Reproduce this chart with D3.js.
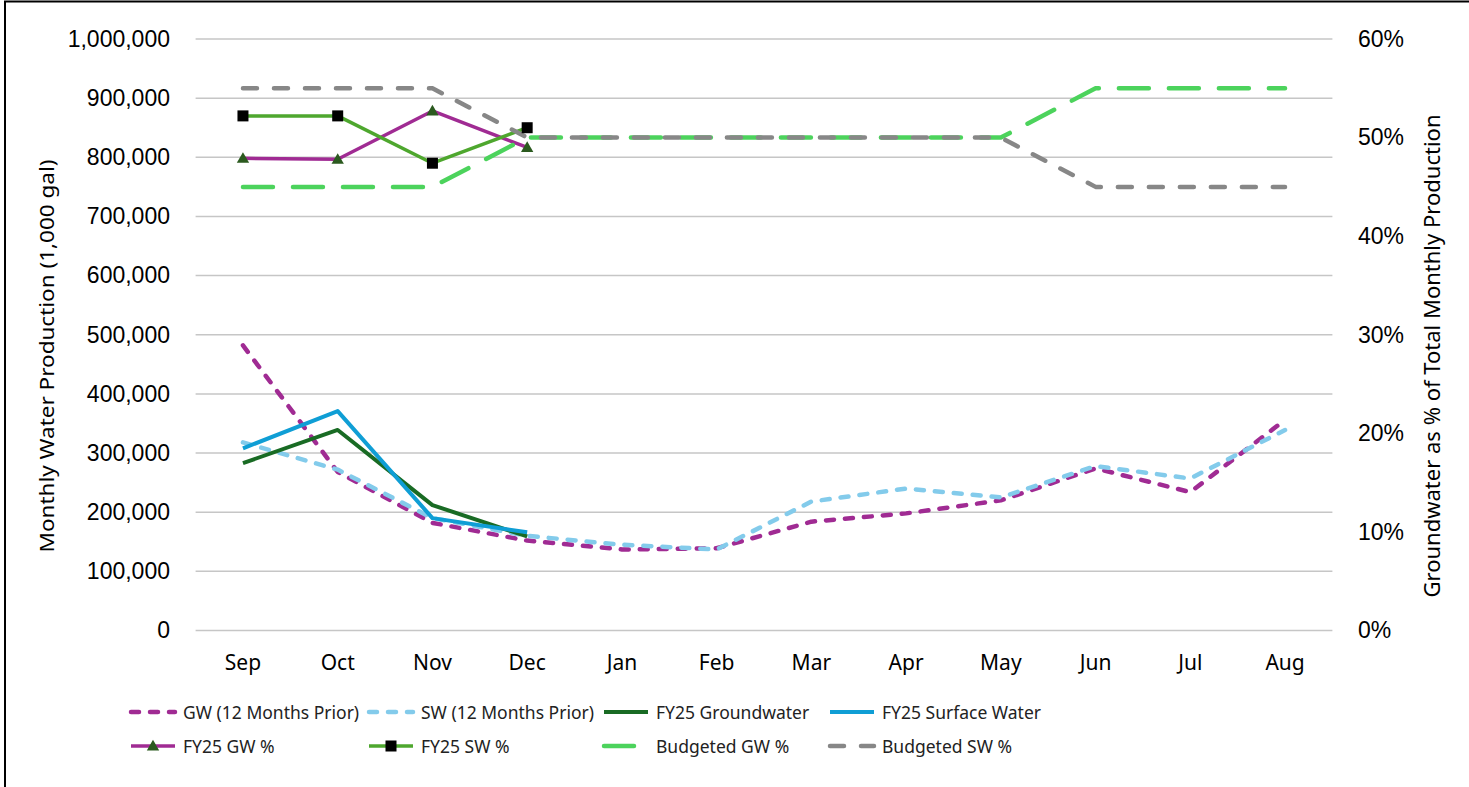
<!DOCTYPE html>
<html>
<head>
<meta charset="utf-8">
<script src="https://cdn.jsdelivr.net/npm/d3@7"></script>
<style>
	body { margin: 0; background: #fff; }
	#graph svg { display: block; }
</style>
</head>
<body>
<div id="graph"></div>
<script>
// chart values
const months = ["Sep", "Oct", "Nov", "Dec", "Jan", "Feb", "Mar", "Apr", "May", "Jun", "Jul", "Aug"];
const gwPrior = [482000, 268000, 182000, 152000, 137000, 139000, 184000, 198000, 220000, 274000, 234000, 356000];
const swPrior = [318000, 272000, 190000, 160000, 145000, 137000, 218000, 240000, 225000, 278000, 257000, 339000];
const fy25Gw = [283000, 339000, 212000, 159000];
const fy25Sw = [308000, 371000, 190000, 166000];
const fy25GwPct = [0.479, 0.478, 0.527, 0.490];
const fy25SwPct = [0.522, 0.522, 0.474, 0.510];
const budgetGwPct = [0.45, 0.45, 0.45, 0.50, 0.50, 0.50, 0.50, 0.50, 0.50, 0.55, 0.55, 0.55];
const budgetSwPct = [0.55, 0.55, 0.55, 0.50, 0.50, 0.50, 0.50, 0.50, 0.50, 0.45, 0.45, 0.45];
const leftTicks = [0, 100000, 200000, 300000, 400000, 500000, 600000, 700000, 800000, 900000, 1000000];
const rightTicks = [0, 0.1, 0.2, 0.3, 0.4, 0.5, 0.6];

width = 1469;
height = 787;
marginLeft = 195.6;
marginRight = 1332.4;
plotTop = 39;
plotBottom = 630.5;

const tickFont = "'Liberation Sans', Arial, sans-serif";
const textFont = "'Noto Sans', 'Open Sans', sans-serif";

const xScale = d3.scaleBand(months, [marginLeft, marginRight]);
const xMid = (m) => xScale(m) + xScale.bandwidth() / 2;
const yLeft = d3.scaleLinear([0, 1000000], [plotBottom, plotTop]);
const yRight = d3.scaleLinear([0, 0.6], [plotBottom, plotTop]);

// series styles, in legend order
const series = [
	{ name: "GW (12 Months Prior)", values: gwPrior, y: yLeft, color: "#A02B93", w: 4.5, dash: "8,11" },
	{ name: "SW (12 Months Prior)", values: swPrior, y: yLeft, color: "#83CBEB", w: 4.5, dash: "8,11" },
	{ name: "FY25 Groundwater", values: fy25Gw, y: yLeft, color: "#196B24", w: 4, dash: null },
	{ name: "FY25 Surface Water", values: fy25Sw, y: yLeft, color: "#0F9ED5", w: 4, dash: null },
	{ name: "FY25 GW %", values: fy25GwPct, y: yRight, color: "#A02B93", w: 3.5, dash: null, marker: "triangle" },
	{ name: "FY25 SW %", values: fy25SwPct, y: yRight, color: "#4EA72E", w: 3.5, dash: null, marker: "square" },
	{ name: "Budgeted GW %", values: budgetGwPct, y: yRight, color: "#4CD35C", w: 4.5, dash: "30,20" },
	{ name: "Budgeted SW %", values: budgetSwPct, y: yRight, color: "#878787", w: 4.5, dash: "14,17" },
];

const svg = d3
	.select("#graph")
	.append("svg")
	.attr("width", width)
	.attr("height", height)
	.attr("viewBox", [0, 0, width, height]);

// outer frame
svg
	.append("rect")
	.attr("x", 5)
	.attr("y", 1.5)
	.attr("width", width + 20)
	.attr("height", height + 20)
	.attr("fill", "white")
	.attr("stroke", "black")
	.attr("stroke-width", 2);

// left axis labels
const yAxisLeft = d3
	.axisLeft(yLeft)
	.tickValues(leftTicks)
	.tickFormat(d3.format(","))
	.tickSize(0)
	.tickPadding(0);

svg
	.append("g")
	.attr("transform", `translate(170,0)`)
	.call(yAxisLeft)
	.call((g) => g.select(".domain").remove())
	.call((g) =>
		g
			.selectAll(".tick text")
			.attr("font-family", tickFont)
			.attr("font-size", 23)
			.attr("fill", "#000")
	);

// gridlines
svg
	.append("g")
	.selectAll("line")
	.data(leftTicks)
	.join("line")
	.attr("x1", marginLeft)
	.attr("x2", marginRight)
	.attr("y1", (d) => yLeft(d))
	.attr("y2", (d) => yLeft(d))
	.attr("stroke", "#c6c6c6")
	.attr("stroke-width", 1.5);

// right axis
const yAxisRight = d3
	.axisRight(yRight)
	.tickValues(rightTicks)
	.tickFormat(d3.format(".0%"))
	.tickSize(0)
	.tickPadding(0);

svg
	.append("g")
	.attr("transform", `translate(1358,0)`)
	.call(yAxisRight)
	.call((g) => g.select(".domain").remove())
	.call((g) =>
		g
			.selectAll(".tick text")
			.attr("font-family", tickFont)
			.attr("font-size", 23)
			.attr("fill", "#000")
	);

// month axis
const xAxis = d3.axisBottom(xScale).tickSize(0).tickPadding(0);
svg
	.append("g")
	.attr("transform", `translate(0,655)`)
	.call(xAxis)
	.call((g) => g.select(".domain").remove())
	.call((g) =>
		g
			.selectAll(".tick text")
			.attr("font-family", textFont)
			.attr("font-size", 21)
			.attr("fill", "#000")
	);

// axis titles
svg
	.append("text")
	.attr("transform", `translate(54,356) rotate(-90)`)
	.attr("text-anchor", "middle")
	.attr("font-family", textFont)
	.attr("font-size", 20)
	.attr("textLength", 393)
	.attr("lengthAdjust", "spacingAndGlyphs")
	.text("Monthly Water Production (1,000 gal)");

svg
	.append("text")
	.attr("transform", `translate(1440,356) rotate(-90)`)
	.attr("text-anchor", "middle")
	.attr("font-family", textFont)
	.attr("font-size", 21)
	.attr("textLength", 483)
	.attr("lengthAdjust", "spacingAndGlyphs")
	.text("Groundwater as % of Total Monthly Production");

// lines
const plot = svg.append("g");
series.forEach((s) => {
	const line = d3
		.line()
		.x((d, i) => xMid(months[i]))
		.y((d) => s.y(d));
	plot
		.append("path")
		.datum(s.values)
		.attr("d", line)
		.attr("fill", "none")
		.attr("stroke", s.color)
		.attr("stroke-width", s.w)
		.attr("stroke-linecap", s.dash ? "round" : "butt")
		.attr("stroke-linejoin", "round")
		.attr("stroke-dasharray", s.dash);
});

function drawMarker(g, type, x, y) {
	if (type === "triangle") {
		g.append("path")
			.attr("d", d3.symbol(d3.symbolTriangle, 66)())
			.attr("transform", `translate(${x},${y + 1})`)
			.attr("fill", "#2B5A1F");
	} else if (type === "square") {
		g.append("rect")
			.attr("x", x - 5.5)
			.attr("y", y - 5.5)
			.attr("width", 11)
			.attr("height", 11)
			.attr("fill", "#000");
	}
}

series
	.filter((s) => s.marker)
	.forEach((s) => {
		s.values.forEach((v, i) => drawMarker(plot, s.marker, xMid(months[i]), s.y(v)));
	});

// legend
const legendCols = [129, 367, 602, 828];
const legendRows = [712, 746];
const legend = svg.append("g");
series.forEach((s, i) => {
	const lx = legendCols[i % 4];
	const ly = legendRows[Math.floor(i / 4)];
	legend
		.append("line")
		.attr("x1", lx + 2)
		.attr("x2", lx + 46)
		.attr("y1", ly)
		.attr("y2", ly)
		.attr("stroke", s.color)
		.attr("stroke-width", s.w)
		.attr("stroke-linecap", s.dash ? "round" : "butt")
		.attr("stroke-dasharray", s.dash);
	if (s.marker) drawMarker(legend, s.marker, lx + 24, ly);
	legend
		.append("text")
		.attr("x", lx + 54)
		.attr("y", ly + 7)
		.attr("font-family", textFont)
		.attr("font-size", 17.5)
		.attr("fill", "#222")
		.text(s.name);
});
</script>
</body>
</html>
